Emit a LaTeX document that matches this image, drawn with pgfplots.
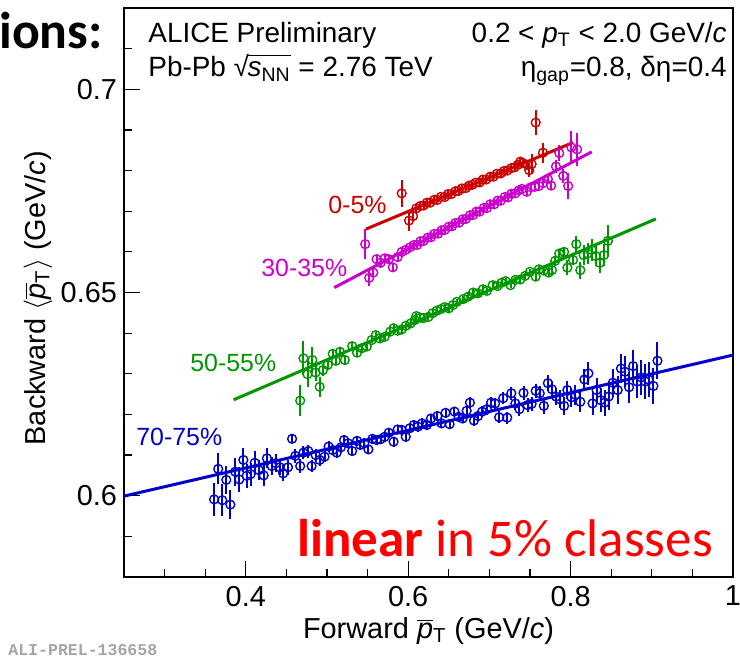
\documentclass[border=0pt]{standalone}
\usepackage{pgfplots}
\pgfplotsset{compat=1.18}
\usepackage{fontspec}
\setmainfont{Liberation Sans}
\newfontfamily\calibri{Carlito}
\newfontfamily\monof{Liberation Mono}
\definecolor{cRed}{RGB}{205,0,0}
\definecolor{cMag}{RGB}{204,0,204}
\definecolor{cGreen}{RGB}{0,150,0}
\definecolor{cBlue}{RGB}{0,0,204}
\definecolor{cBright}{RGB}{255,0,0}
\definecolor{cGray}{RGB}{165,165,165}
\newsavebox\snnbox
\begin{document}
\begin{tikzpicture}
\useasboundingbox (0,0) rectangle (370bp,-332bp);
\begin{axis}[
  at={(62bp,-4bp)}, anchor=north west,
  width=304.5bp, height=284.5bp, scale only axis,
  xmin=0.25, xmax=1.0, ymin=0.58, ymax=0.72,
  xtick={0.4,0.6,0.8,1}, xticklabels={0.4,0.6,0.8,1},
  minor xtick={0.3,0.35,0.45,0.5,0.55,0.65,0.7,0.75,0.85,0.9,0.95},
  ytick={0.6,0.65,0.7}, yticklabels={0.6,0.65,0.7},
  minor ytick={0.59,0.61,0.62,0.63,0.64,0.66,0.67,0.68,0.69,0.71},
  xtick pos=bottom, ytick pos=left, tick align=inside,
  major tick length=8bp, minor tick length=4bp,
  tick style={black, line width=0.6bp},
  axis line style={line width=1bp},
  ticklabel style={font=\fontsize{14.5}{16}\selectfont},
  xticklabel style={yshift=-1bp},
  xlabel={Forward $\overline{\mbox{\textit{p}}}$\textsubscript{T} (GeV/\textit{c})},
  ylabel={Backward $\langle\overline{\mbox{\textit{p}}}$\textsubscript{T}$\rangle$ (GeV/\textit{c})},
  label style={font=\fontsize{14.5}{16}\selectfont},
  xlabel style={at={(axis description cs:0.5,-0.108)}, anchor=base},
  ylabel style={at={(axis description cs:-0.1297,0.49)}, anchor=base},
  error bars/y dir=both, error bars/y explicit,
  error bars/error mark=none,
]
% 70-75%
\addplot[only marks, mark=o, mark size=2.2bp, color=cBlue, mark options={line width=0.7bp},
  error bars/error bar style={line width=1bp, cBlue}]
  table[x=x, y=y, y error=e] {
x y e
0.361 0.5991 0.0040
0.371 0.5989 0.0040
0.381 0.5978 0.0035
0.366 0.6066 0.0038
0.376 0.6039 0.0035
0.387 0.6059 0.0035
0.392 0.6040 0.0030
0.397 0.6088 0.0030
0.401 0.6049 0.0030
0.406 0.6053 0.0028
0.411 0.6081 0.0028
0.416 0.6063 0.0025
0.422 0.6050 0.0025
0.426 0.6092 0.0025
0.432 0.6073 0.0022
0.437 0.6080 0.0022
0.442 0.6070 0.0020
0.446 0.6055 0.0020
0.452 0.6070 0.0018
0.457 0.6140 0.0010
0.461 0.6098 0.0018
0.467 0.6073 0.0018
0.471 0.6106 0.0016
0.477 0.6110 0.0016
0.481 0.6073 0.0015
0.486 0.6100 0.0015
0.491 0.6088 0.0014
0.497 0.6096 0.0014
0.502 0.6121 0.0013
0.507 0.6112 0.0013
0.512 0.6106 0.0012
0.517 0.6119 0.0012
0.521 0.6137 0.0012
0.526 0.6129 0.0012
0.531 0.6110 0.0012
0.537 0.6135 0.0012
0.541 0.6125 0.0012
0.546 0.6129 0.0012
0.551 0.6114 0.0012
0.556 0.6140 0.0012
0.561 0.6137 0.0012
0.566 0.6139 0.0012
0.571 0.6145 0.0012
0.576 0.6155 0.0012
0.582 0.6133 0.0012
0.587 0.6163 0.0012
0.592 0.6162 0.0012
0.597 0.6145 0.0012
0.602 0.6166 0.0012
0.607 0.6174 0.0012
0.612 0.6170 0.0012
0.617 0.6178 0.0012
0.623 0.6174 0.0012
0.628 0.6190 0.0012
0.636 0.6196 0.0012
0.641 0.6178 0.0012
0.646 0.6204 0.0012
0.651 0.6176 0.0012
0.657 0.6207 0.0012
0.662 0.6194 0.0012
0.667 0.6190 0.0012
0.672 0.6209 0.0013
0.676 0.6229 0.0013
0.681 0.6185 0.0013
0.686 0.6196 0.0013
0.691 0.6207 0.0013
0.697 0.6213 0.0014
0.702 0.6229 0.0014
0.707 0.6227 0.0014
0.712 0.6193 0.0015
0.717 0.6240 0.0015
0.722 0.6192 0.0015
0.727 0.6252 0.0016
0.732 0.6227 0.0016
0.737 0.6213 0.0017
0.742 0.6253 0.0017
0.747 0.6223 0.0018
0.752 0.6226 0.0018
0.757 0.6258 0.0018
0.762 0.6252 0.0019
0.767 0.6221 0.0020
0.772 0.6277 0.0020
0.777 0.6262 0.0020
0.782 0.6244 0.0021
0.787 0.6237 0.0022
0.792 0.6221 0.0022
0.796 0.6260 0.0023
0.801 0.6242 0.0024
0.806 0.6248 0.0025
0.812 0.6231 0.0026
0.817 0.6286 0.0027
0.822 0.6301 0.0028
0.827 0.6227 0.0028
0.832 0.6260 0.0030
0.837 0.6235 0.0030
0.842 0.6229 0.0032
0.847 0.6244 0.0032
0.852 0.6278 0.0034
0.858 0.6260 0.0035
0.862 0.6313 0.0036
0.867 0.6305 0.0038
0.872 0.6267 0.0038
0.877 0.6319 0.0040
0.882 0.6281 0.0040
0.887 0.6291 0.0042
0.892 0.6281 0.0042
0.896 0.6286 0.0044
0.902 0.6270 0.0045
0.907 0.6332 0.0045
};
% 50-55%
\addplot[only marks, mark=o, mark size=2.2bp, color=cGreen, mark options={line width=0.7bp},
  error bars/error bar style={line width=1bp, cGreen}]
  table[x=x, y=y, y error=e] {
x y e
0.467 0.6234 0.0039
0.471 0.6338 0.0042
0.476 0.6299 0.0032
0.482 0.6334 0.0032
0.486 0.6303 0.0020
0.491 0.6268 0.0025
0.495 0.6309 0.0015
0.501 0.6322 0.0012
0.507 0.6349 0.0012
0.511 0.6332 0.0010
0.516 0.6354 0.0010
0.522 0.6334 0.0010
0.531 0.6368 0.0009
0.537 0.6352 0.0009
0.543 0.6363 0.0009
0.549 0.6367 0.0008
0.555 0.6383 0.0008
0.560 0.6395 0.0008
0.565 0.6387 0.0008
0.571 0.6391 0.0008
0.578 0.6404 0.0008
0.582 0.6412 0.0008
0.587 0.6406 0.0008
0.592 0.6409 0.0008
0.597 0.6418 0.0008
0.603 0.6424 0.0008
0.608 0.6432 0.0008
0.610 0.6442 0.0008
0.615 0.6438 0.0008
0.619 0.6437 0.0008
0.625 0.6440 0.0008
0.630 0.6449 0.0008
0.635 0.6455 0.0008
0.640 0.6459 0.0008
0.645 0.6464 0.0008
0.650 0.6461 0.0008
0.655 0.6469 0.0008
0.660 0.6477 0.0008
0.668 0.6484 0.0008
0.674 0.6490 0.0008
0.680 0.6500 0.0008
0.686 0.6498 0.0008
0.692 0.6508 0.0008
0.697 0.6504 0.0008
0.704 0.6518 0.0008
0.710 0.6516 0.0008
0.715 0.6524 0.0008
0.720 0.6528 0.0008
0.726 0.6518 0.0008
0.732 0.6531 0.0008
0.738 0.6532 0.0008
0.744 0.6541 0.0008
0.750 0.6551 0.0008
0.757 0.6539 0.0008
0.761 0.6557 0.0008
0.767 0.6554 0.0009
0.773 0.6549 0.0009
0.777 0.6555 0.0010
0.781 0.6578 0.0012
0.786 0.6596 0.0012
0.792 0.6600 0.0013
0.796 0.6561 0.0018
0.803 0.6580 0.0013
0.807 0.6619 0.0020
0.812 0.6555 0.0021
0.816 0.6592 0.0025
0.821 0.6596 0.0025
0.826 0.6605 0.0027
0.831 0.6590 0.0025
0.836 0.6573 0.0025
0.841 0.6592 0.0027
0.846 0.6627 0.0039
};
% 30-35%
\addplot[only marks, mark=o, mark size=2.2bp, color=cMag, mark options={line width=0.7bp},
  error bars/error bar style={line width=1bp, cMag}]
  table[x=x, y=y, y error=e] {
x y e
0.547 0.6619 0.0037
0.552 0.6536 0.0020
0.557 0.6549 0.0012
0.561 0.6582 0.0012
0.566 0.6573 0.0010
0.571 0.6584 0.0010
0.576 0.6582 0.0010
0.581 0.6562 0.0010
0.587 0.6587 0.0009
0.592 0.6600 0.0009
0.597 0.6605 0.0009
0.602 0.6611 0.0008
0.607 0.6617 0.0008
0.611 0.6617 0.0008
0.615 0.6626 0.0008
0.619 0.6627 0.0008
0.624 0.6635 0.0008
0.628 0.6636 0.0008
0.632 0.6644 0.0008
0.637 0.6645 0.0008
0.641 0.6653 0.0008
0.645 0.6654 0.0008
0.650 0.6662 0.0008
0.654 0.6663 0.0008
0.658 0.6671 0.0008
0.663 0.6672 0.0008
0.667 0.6680 0.0008
0.671 0.6681 0.0008
0.676 0.6690 0.0008
0.680 0.6691 0.0008
0.684 0.6699 0.0008
0.688 0.6699 0.0008
0.693 0.6708 0.0008
0.697 0.6708 0.0008
0.701 0.6717 0.0008
0.706 0.6717 0.0008
0.710 0.6726 0.0008
0.714 0.6726 0.0008
0.719 0.6735 0.0008
0.723 0.6734 0.0008
0.727 0.6743 0.0008
0.732 0.6744 0.0008
0.736 0.6751 0.0008
0.740 0.6755 0.0008
0.746 0.6748 0.0008
0.751 0.6759 0.0008
0.756 0.6760 0.0008
0.761 0.6762 0.0008
0.766 0.6769 0.0009
0.772 0.6779 0.0010
0.776 0.6763 0.0012
0.782 0.6810 0.0017
0.786 0.6843 0.0020
0.791 0.6787 0.0018
0.797 0.6762 0.0032
0.801 0.6857 0.0040
0.808 0.6852 0.0040
};
% 0-5%
\addplot[only marks, mark=o, mark size=2.2bp, color=cRed, mark options={line width=0.7bp},
  error bars/error bar style={line width=1bp, cRed}]
  table[x=x, y=y, y error=e] {
x y e
0.592 0.6744 0.0034
0.601 0.6677 0.0025
0.606 0.6688 0.0012
0.610 0.6707 0.0010
0.615 0.6713 0.0008
0.619 0.6714 0.0008
0.623 0.6721 0.0008
0.627 0.6721 0.0008
0.632 0.6728 0.0008
0.636 0.6728 0.0008
0.640 0.6735 0.0008
0.645 0.6735 0.0008
0.649 0.6742 0.0008
0.653 0.6742 0.0008
0.658 0.6749 0.0008
0.662 0.6750 0.0008
0.666 0.6756 0.0008
0.671 0.6757 0.0008
0.675 0.6763 0.0008
0.679 0.6765 0.0008
0.683 0.6770 0.0008
0.688 0.6771 0.0008
0.692 0.6778 0.0008
0.696 0.6778 0.0008
0.701 0.6785 0.0008
0.705 0.6785 0.0008
0.709 0.6792 0.0008
0.714 0.6793 0.0008
0.718 0.6799 0.0008
0.722 0.6800 0.0008
0.727 0.6806 0.0008
0.731 0.6808 0.0008
0.735 0.6814 0.0008
0.738 0.6822 0.0009
0.741 0.6819 0.0009
0.747 0.6814 0.0012
0.749 0.6801 0.0018
0.752 0.6816 0.0025
0.757 0.6918 0.0030
0.766 0.6844 0.0025
};
% linear fits
\addplot[no marks, cBlue, line width=1.5bp] coordinates {(0.25,0.5999) (1.0,0.6346)};
\addplot[no marks, cGreen, line width=1.5bp] coordinates {(0.385,0.6236) (0.905,0.6681)};
\addplot[no marks, cMag, line width=1.5bp] coordinates {(0.509,0.6512) (0.826,0.6846)};
\addplot[no marks, cRed, line width=1.5bp] coordinates {(0.548,0.6656) (0.803,0.6869)};
\end{axis}
% texts (positions in 0.5bp pixel units)
\def\fs{\fontsize{14}{16}\selectfont}
\node[anchor=base west, inner sep=0] at (148*0.5bp,-42*0.5bp) {\fs ALICE Preliminary};
\node[anchor=base west, inner sep=0] at (148*0.5bp,-77*0.5bp) {\fs Pb-Pb \sbox\snnbox{\textit{s}\textsubscript{NN}}√\kern-0.05em\rlap{\rule[0.74em]{\wd\snnbox}{0.055em}}\usebox\snnbox{} = 2.76 TeV};
\node[anchor=base east, inner sep=0] at (727*0.5bp,-42*0.5bp) {\fs 0.2 < \textit{p}\textsubscript{T} < 2.0 GeV/\textit{c}};
\node[anchor=base east, inner sep=0] at (727*0.5bp,-77*0.5bp) {\fs η\textsubscript{gap}=0.8, δη=0.4};
\def\fl{\fontsize{12.5}{14}\selectfont}
\node[anchor=base west, inner sep=0, text=cRed] at (328*0.5bp,-214*0.5bp) {\fl 0-5\%};
\node[anchor=base west, inner sep=0, text=cMag] at (261*0.5bp,-277*0.5bp) {\fl 30-35\%};
\node[anchor=base west, inner sep=0, text=cGreen] at (190*0.5bp,-372*0.5bp) {\fl 50-55\%};
\node[anchor=base west, inner sep=0, text=cBlue] at (136*0.5bp,-446*0.5bp) {\fl 70-75\%};
\node[anchor=base west, inner sep=0, text=cBright] at (297*0.5bp,-557*0.5bp) {\calibri\fontsize{26.6}{28}\selectfont\textbf{linear} in 5\% classes};
\node[anchor=base east, inner sep=0] at (103*0.5bp,-48*0.5bp) {\calibri\fontsize{26}{28}\selectfont\bfseries ions:};
\node[anchor=base west, inner sep=0, text=cGray] at (8*0.5bp,-656*0.5bp) {\monof\fontsize{8.3}{9}\selectfont\bfseries ALI-PREL-136658};
\end{tikzpicture}
\end{document}
